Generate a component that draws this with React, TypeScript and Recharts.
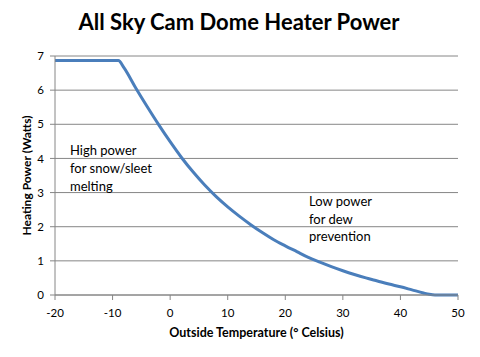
import React from 'react';
import { LineChart, Line, XAxis, YAxis, CartesianGrid } from 'recharts';

// outside temperature (°C) and heater power (W)
const temps = [-20, -15, -10, -9, -8, -6, -4, -2, 0, 2, 4, 6, 8, 10, 12, 14, 16, 18, 20, 22, 24, 26, 28, 30, 32, 34, 36, 38, 40, 42, 44, 45, 46, 48, 50];
const watts = [6.87, 6.87, 6.87, 6.87, 6.65, 6.07, 5.52, 4.99, 4.49, 4.02, 3.6, 3.22, 2.88, 2.58, 2.31, 2.06, 1.83, 1.62, 1.44, 1.27, 1.1, 0.96, 0.83, 0.71, 0.6, 0.5, 0.41, 0.32, 0.24, 0.15, 0.06, 0.02, 0, 0, 0];

const xTicks = [-20, -10, 0, 10, 20, 30, 40, 50];
const yTicks = [0, 1, 2, 3, 4, 5, 6, 7];

const title = 'All Sky Cam Dome Heater Power';
const xTitle = 'Outside Temperature (° Celsius)';
const yTitle = 'Heating Power (Watts)';
const noteHigh = ['High power', 'for snow/sleet', 'melting'];
const noteLow = ['Low power', 'for dew', 'prevention'];

const data = temps.map((t, i) => ({ temp: t, power: watts[i] }));

const FONT = 'Lato, "Open Sans", sans-serif';
const GRID = '#868686';

export default function App() {
  return (
    <div style={{ position: 'absolute', left: 0, top: 0, width: 480, height: 357, background: '#fff', fontFamily: FONT }}>
      {/* Title */}
      <div style={{ position: 'absolute', left: 0, top: 8, width: 478, textAlign: 'center', fontSize: 22, fontWeight: 700, color: '#000' }}>
        {title}
      </div>

      <LineChart width={480} height={357} data={data} margin={{ top: 56, right: 22, bottom: 0, left: 0 }}>
        <CartesianGrid vertical={false} stroke={GRID} strokeWidth={1} />
        <XAxis
          dataKey="temp"
          type="number"
          domain={[-20, 50]}
          ticks={xTicks}
          height={62}
          stroke={GRID}
          tickSize={5}
          tickMargin={9}
          tick={{ fill: '#000', fontSize: 11.5, fontFamily: FONT }}
          label={{
            content: (props: any) => {
              const vb = props.viewBox;
              return (
                <text x={vb.x + vb.width / 2} y={vb.y + 42} textAnchor="middle" fontSize={12.5} fontWeight={700} fontFamily={FONT} fill="#000">
                  {xTitle}
                </text>
              );
            },
          }}
        />
        <YAxis
          type="number"
          domain={[0, 7]}
          ticks={yTicks}
          width={55}
          stroke={GRID}
          tickSize={5}
          tickMargin={6}
          tick={{ fill: '#000', fontSize: 11.5, fontFamily: FONT }}
          label={{
            content: (props: any) => {
              const vb = props.viewBox;
              const cx = vb.x + 26;
              const cy = vb.y + vb.height / 2;
              return (
                <text x={cx} y={cy} transform={`rotate(-90 ${cx} ${cy})`} textAnchor="middle" dominantBaseline="central" fontSize={12} fontWeight={700} fontFamily={FONT} fill="#000">
                  {yTitle}
                </text>
              );
            },
          }}
        />
        <Line
          type="monotone"
          dataKey="power"
          stroke="#4a7ebb"
          strokeWidth={3}
          dot={false}
          isAnimationActive={false}
        />
      </LineChart>

      {/* Annotations */}
      <div style={{ position: 'absolute', left: 70, top: 141, fontSize: 13, lineHeight: '18px', color: '#000' }}>
        {noteHigh.map((s) => <div key={s}>{s}</div>)}
      </div>
      <div style={{ position: 'absolute', left: 309, top: 193, fontSize: 13, lineHeight: '17.5px', color: '#000' }}>
        {noteLow.map((s) => <div key={s}>{s}</div>)}
      </div>
    </div>
  );
}
